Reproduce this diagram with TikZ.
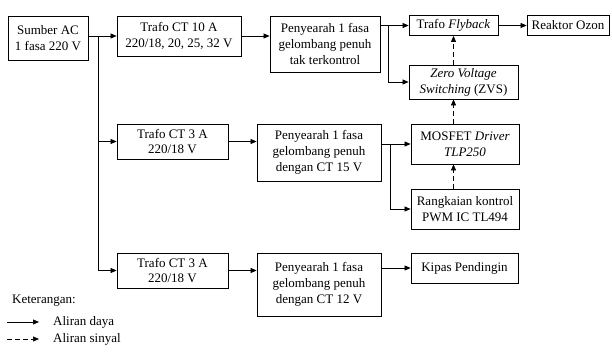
\documentclass[tikz,border=0pt]{standalone}
\usepackage{fontspec}
\setmainfont{Liberation Serif}
\usepackage{tikz}
\usetikzlibrary{positioning,arrows.meta,calc}
\tikzstyle{blok}=[rectangle, draw=black, line width=0.8pt, inner sep=0pt, align=center, font=\fontsize{13}{15.8}\selectfont]
\tikzstyle{arrow}=[-{Triangle[length=6pt,width=5pt]}, line width=0.7pt]
\tikzstyle{sinyal}=[arrow, dash pattern=on 5pt off 3pt]
\tikzstyle{ket}=[anchor=west, inner sep=0pt, font=\fontsize{13}{15.8}\selectfont]

\begin{document}
\begin{tikzpicture}[x=1pt, y=-1pt]
    \useasboundingbox (0,0) rectangle (612,352);

    % baris atas
    \node[blok, minimum width=80pt, minimum height=44pt] (sumber) at (48,38) {Sumber AC\\1 fasa 220 V};
    \node[blok, minimum width=124pt, minimum height=40pt] (trafoA) at (179,36) {Trafo CT 10 A\\220/18, 20, 25, 32 V};
    \node[blok, minimum width=110pt, minimum height=56pt] (searahA) at (325,44) {Penyearah 1 fasa\\gelombang penuh\\tak terkontrol};
    \node[blok, minimum width=89pt, minimum height=20pt] (flyback) at (453.5,25.5) {Trafo \textit{Flyback}};
    \node[blok, minimum width=82pt, minimum height=20pt] (reaktor) at (568,25.5) {Reaktor Ozon};
    \node[blok, minimum width=109pt, minimum height=34pt] (zvs) at (463.5,82) {\textit{Zero Voltage}\\\textit{Switching} (ZVS)};

    % baris tengah
    \node[blok, minimum width=111pt, minimum height=35pt] (trafoB) at (172.5,141.5) {Trafo CT 3 A\\220/18 V};
    \node[blok, minimum width=124pt, minimum height=57pt] (searahB) at (319,152.5) {Penyearah 1 fasa\\gelombang penuh\\dengan CT 15 V};
    \node[blok, minimum width=108pt, minimum height=40pt] (mosfet) at (465,144) {MOSFET \textit{Driver}\\\textit{TLP250}};
    \node[blok, minimum width=108pt, minimum height=40pt] (pwm) at (465,209) {Rangkaian kontrol\\PWM IC TL494};

    % baris bawah
    \node[blok, minimum width=111pt, minimum height=35pt] (trafoC) at (172.5,270.5) {Trafo CT 3 A\\220/18 V};
    \node[blok, minimum width=124pt, minimum height=63pt] (searahC) at (319,284.5) {Penyearah 1 fasa\\gelombang penuh\\dengan CT 12 V};
    \node[blok, minimum width=107pt, minimum height=30pt] (kipas) at (464.5,268) {Kipas Pendingin};

    % titik cabang
    \coordinate (jA) at (98,36);
    \coordinate (jB) at (388,25.5);
    \coordinate (jC) at (390,144);

    \draw[arrow] (sumber.east |- trafoA) -- (trafoA);
    \draw[arrow] (jA) |- (trafoB);
    \draw[arrow] (jA) |- (trafoC);
    \draw[arrow] (trafoA) -- (trafoA -| searahA.west);
    \draw[arrow] (searahA.east |- flyback) -- (flyback);
    \draw[arrow] (jB) |- (zvs);
    \draw[arrow] (flyback) -- (reaktor);
    \draw[arrow] (trafoB) -- (trafoB -| searahB.west);
    \draw[arrow] (searahB.east |- mosfet) -- (mosfet);
    \draw[arrow] (jC) |- (pwm);
    \draw[arrow] (trafoC) -- (trafoC -| searahC.west);
    \draw[arrow] (searahC.east |- kipas) -- (kipas);

    \draw[sinyal] (zvs.north -| flyback) -- (flyback.south);
    \draw[sinyal] (mosfet.north -| flyback) -- (zvs.south -| flyback);
    \draw[sinyal] (pwm.north -| flyback) -- (mosfet.south -| flyback);

    % keterangan
    \node[ket] (keterangan) at (12,301) {Keterangan:};
    \coordinate (daya0) at (7,322);
    \coordinate (daya1) at (39,322);
    \coordinate (sinyal0) at (7,339);
    \coordinate (sinyal1) at (39,339);
    \draw[arrow] (daya0) -- (daya1);
    \draw[sinyal] (sinyal0) -- (sinyal1);
    \node[ket] (daya) at (53,322) {Aliran daya};
    \node[ket] (sinyal) at (53,339) {Aliran sinyal};
\end{tikzpicture}
\end{document}
